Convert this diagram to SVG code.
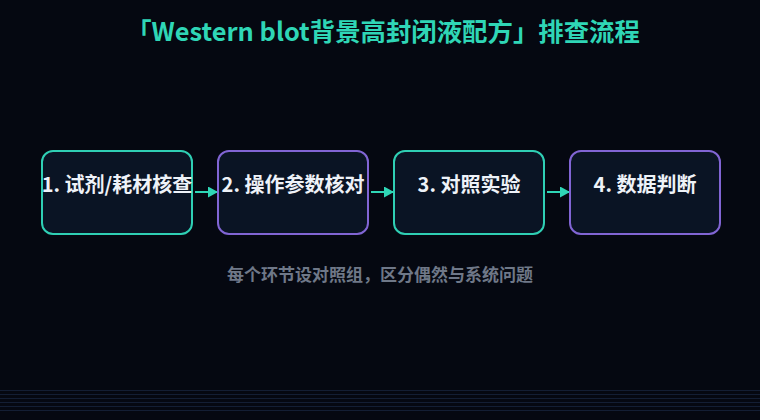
<svg xmlns="http://www.w3.org/2000/svg" width="760" height="420" viewBox="0 0 760 420">
  <defs>
    <style>
      .bg { fill: #050811; }
      .grid { stroke: #131e34; stroke-width: 1; }
      .title { font-family: "Noto Sans CJK SC", "Noto Sans", sans-serif; font-weight: 700; font-size: 25.4px; fill: #2fd6b6; text-anchor: middle; }
      .box { fill: #0a1424; stroke-width: 2; }
      .teal { stroke: #2fcfb4; }
      .purple { stroke: #8165d4; }
      .label { font-family: "Noto Sans CJK SC", "Noto Sans", sans-serif; font-weight: 700; font-size: 20px; fill: #eef2f8; text-anchor: middle; }
      .sub { font-family: "Noto Sans CJK SC", "Noto Sans", sans-serif; font-weight: 700; font-size: 17px; fill: #6f7888; text-anchor: middle; }
      .conn { stroke: #2fd6b6; stroke-width: 2; fill: none; }
    </style>
    <marker id="arrow" markerWidth="10" markerHeight="11" refX="9" refY="5.5" orient="auto" markerUnits="userSpaceOnUse">
      <path d="M0,0 L10,5.5 L0,11 Z" fill="#2fd6b6"/>
    </marker>
  </defs>
  <rect class="bg" x="0" y="0" width="760" height="420"/>
  <g id="grid">
    <line class="grid" x1="0" y1="390.5" x2="760" y2="390.5"/>
    <line class="grid" x1="0" y1="394.5" x2="760" y2="394.5"/>
    <line class="grid" x1="0" y1="398.5" x2="760" y2="398.5"/>
    <line class="grid" x1="0" y1="402.5" x2="760" y2="402.5"/>
    <line class="grid" x1="0" y1="406.5" x2="760" y2="406.5"/>
    <line class="grid" x1="0" y1="410.5" x2="760" y2="410.5"/>
  </g>
  <text id="title" class="title" x="383" y="41">「Western blot背景高封闭液配方」排查流程</text>
  <g id="connectors">
    <line class="conn" x1="195" y1="192" x2="217" y2="192" marker-end="url(#arrow)"/>
    <line class="conn" x1="371" y1="192" x2="393" y2="192" marker-end="url(#arrow)"/>
    <line class="conn" x1="547" y1="192" x2="569" y2="192" marker-end="url(#arrow)"/>
  </g>
  <g id="node1">
    <rect class="box teal" x="42" y="151" width="150" height="83" rx="11"/>
    <text class="label" x="117" y="192">1. 试剂/耗材核查</text>
  </g>
  <g id="node2">
    <rect class="box purple" x="218" y="151" width="150" height="83" rx="11"/>
    <text class="label" x="293" y="192">2. 操作参数核对</text>
  </g>
  <g id="node3">
    <rect class="box teal" x="394" y="151" width="150" height="83" rx="11"/>
    <text class="label" x="469" y="192">3. 对照实验</text>
  </g>
  <g id="node4">
    <rect class="box purple" x="570" y="151" width="150" height="83" rx="11"/>
    <text class="label" x="645" y="192">4. 数据判断</text>
  </g>
  <text id="subtitle" class="sub" x="380" y="281">每个环节设对照组，区分偶然与系统问题</text>
</svg>
